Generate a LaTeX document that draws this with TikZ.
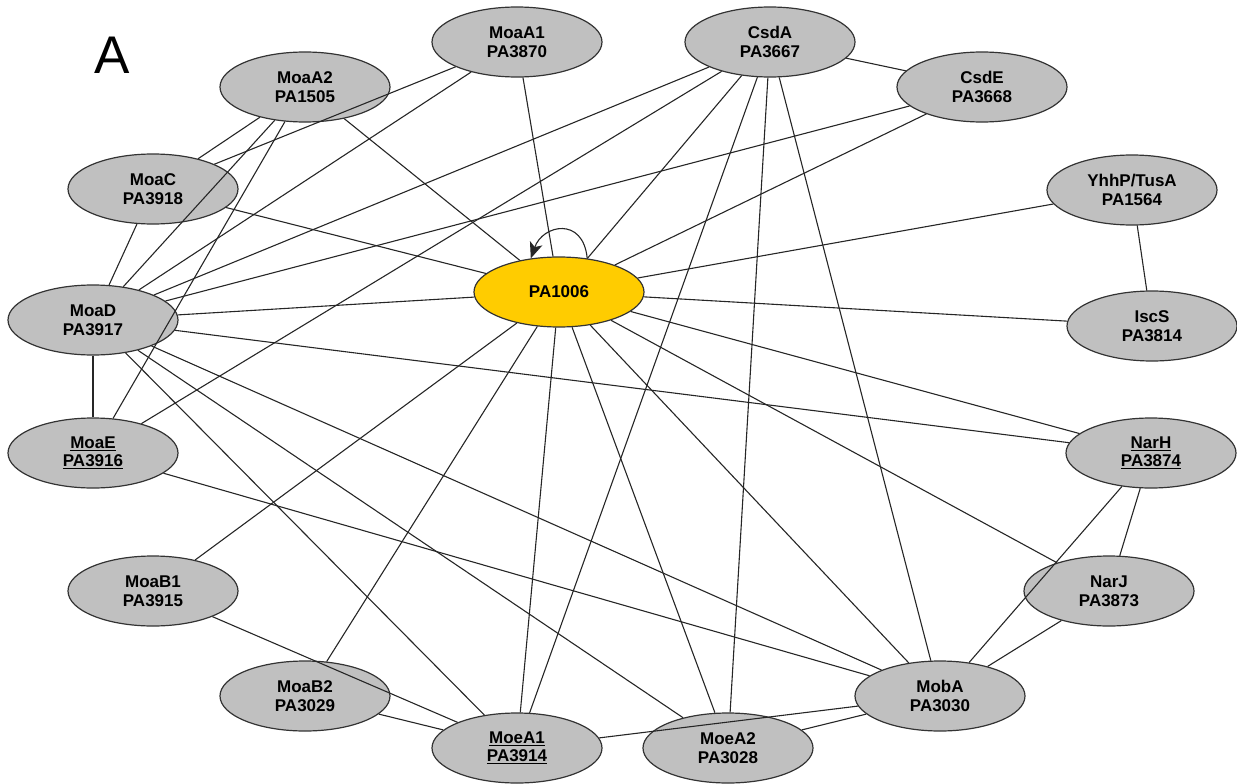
\documentclass[tikz,border=0pt]{standalone}
\usepackage{fontspec}
\setmainfont{Liberation Sans}
\usetikzlibrary{arrows.meta,shapes.geometric}
\definecolor{ngray}{HTML}{C0C0C0}
\definecolor{nyellow}{HTML}{FFCC00}
\newcommand\ulin[1]{\sbox0{#1}\leavevmode\rlap{\rule[-2.6pt]{\wd0}{1.2pt}}\usebox0}
\begin{document}
\begin{tikzpicture}[x=1pt,y=1pt,
  gn/.style={ellipse, draw=black!80, line width=1.2pt, fill=ngray,
    minimum width=170pt, minimum height=70pt, inner sep=0pt, align=center,
    font=\bfseries\fontsize{17}{18.5}\selectfont},
  cn/.style={gn, fill=nyellow},
  ed/.style={draw=black!85, line width=1.1pt}]
\useasboundingbox (0,-784) rectangle (1237,0);
\node[font=\fontsize{53}{53}\selectfont, inner sep=0pt] (lbl) at (112,-55) {A};
\node[gn] (moaa1) at (517,-42) {MoaA1\\PA3870};
\node[gn] (csda) at (770,-42) {CsdA\\PA3667};
\node[gn] (moaa2) at (305,-87) {MoaA2\\PA1505};
\node[gn] (csde) at (982,-87) {CsdE\\PA3668};
\node[gn] (moac) at (153,-189) {MoaC\\PA3918};
\node[gn] (yhhp) at (1132,-190) {YhhP/TusA\\PA1564};
\node[gn] (moad) at (93,-320) {MoaD\\PA3917};
\node[gn] (iscs) at (1152,-326) {IscS\\PA3814};
\node[cn] (pa) at (559,-292) {PA1006};
\node[gn] (moae) at (93,-453) {\ulin{MoaE}\\\ulin{PA3916}};
\node[gn] (narh) at (1151,-453) {\ulin{NarH}\\\ulin{PA3874}};
\node[gn] (narj) at (1109,-591) {NarJ\\PA3873};
\node[gn] (moab1) at (153,-591) {MoaB1\\PA3915};
\node[gn] (moab2) at (305,-696) {MoaB2\\PA3029};
\node[gn] (moba) at (940,-696) {MobA\\PA3030};
\node[gn] (moea1) at (517,-748) {\ulin{MoeA1}\\\ulin{PA3914}};
\node[gn] (moea2) at (728,-748) {MoeA2\\PA3028};
% edges
\foreach \a/\b in {moaa1/moac, moaa1/moad, moaa1/pa,
  moaa2/moac, moaa2/moad, moaa2/moae, moaa2/pa,
  csda/csde, csda/moad, csda/moae, csda/pa, csda/moea1, csda/moea2, csda/moba,
  csde/moad, csde/pa,
  yhhp/pa, yhhp/iscs, iscs/pa,
  moac/moad, moac/pa,
  moad/moae, moad/pa, moad/narh, moad/moba, moad/moea2, moad/moea1,
  moae/moba,
  moab1/pa, moab1/moea1, moab2/pa, moab2/moea1,
  moea1/pa, moea1/moba, moea2/pa, moea2/moba,
  moba/pa, moba/narh, moba/narj,
  narh/narj, narh/pa, narj/pa}
  \draw[ed] (\a) -- (\b);
% self loop
\draw[ed, -{Stealth[length=16pt,width=13pt,inset=4pt]}] (pa.50) .. controls +(-4,42) and +(12,34) .. (pa.130);
\end{tikzpicture}
\end{document}
